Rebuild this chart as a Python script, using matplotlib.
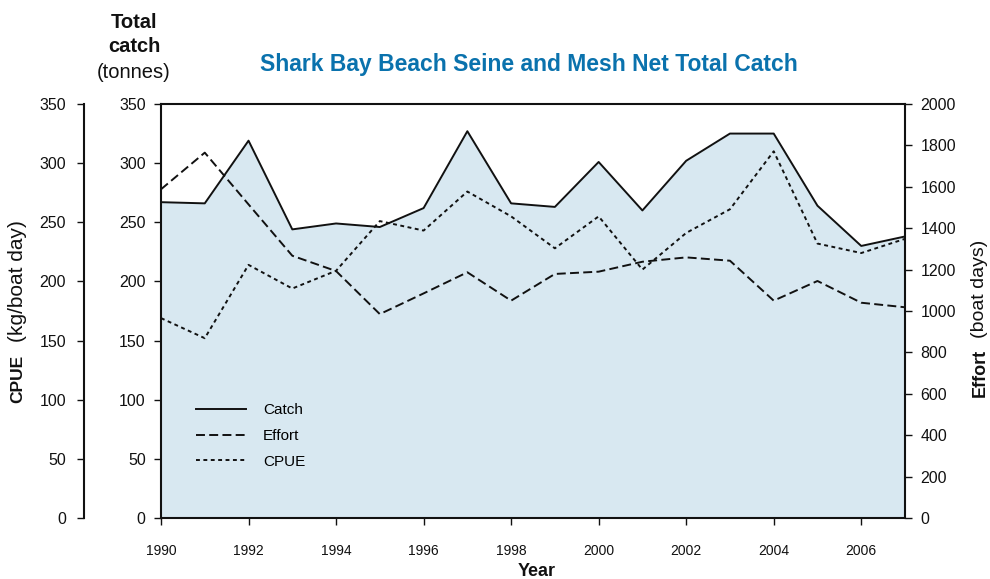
import matplotlib
matplotlib.use("Agg")
import matplotlib.pyplot as plt
import numpy as np

plt.rcParams['font.family'] = ['Liberation Sans', 'DejaVu Sans']

years = [1990, 1991, 1992, 1993, 1994, 1995, 1996, 1997, 1998, 1999,
         2000, 2001, 2002, 2003, 2004, 2005, 2006, 2007]
catch = [267, 266, 319, 244, 249, 246, 262, 327, 266, 263,
         301, 260, 302, 325, 325, 264, 230, 238]
effort = [1588, 1765, 1515, 1267, 1193, 985, 1085, 1187, 1050, 1179,
          1190, 1238, 1259, 1243, 1050, 1145, 1040, 1018]
cpue = [169, 152, 214, 194, 209, 251, 243, 276, 255, 228,
        255, 210, 241, 261, 310, 232, 224, 236]
xticks = [1990, 1992, 1994, 1996, 1998, 2000, 2002, 2004, 2006]
catch_ticks = [0, 50, 100, 150, 200, 250, 300, 350]
cpue_ticks = [0, 50, 100, 150, 200, 250, 300, 350]
effort_ticks = [0, 200, 400, 600, 800, 1000, 1200, 1400, 1600, 1800, 2000]

W, H = 990, 579
fig = plt.figure(figsize=(W / 100, H / 100), dpi=100)
L, R, T, B = 161, 905, 104, 518
ax = fig.add_axes([L / W, 1 - B / H, (R - L) / W, (B - T) / H])

fill_col = '#d8e8f1'
ink = '#111111'
lw_sp = 1.5

ax.fill_between(years, catch, 0, color=fill_col, lw=0, zorder=1)
ax.plot(years, catch, color=ink, lw=1.4, zorder=3, label='Catch')
ax.set_xlim(1990, 2007)
ax.set_ylim(0, 350)
ax.set_xticks(xticks)
ax.set_yticks(catch_ticks)
ax.tick_params(axis='x', direction='out', length=5, width=1.0, labelsize=10, pad=14, colors=ink)
ax.tick_params(axis='y', direction='out', length=5, width=1.0, labelsize=11.5, pad=6, colors=ink)
for s in ['top', 'bottom', 'left']:
    ax.spines[s].set_linewidth(lw_sp)
    ax.spines[s].set_color(ink)
ax.spines['right'].set_visible(False)

# effort axis (right)
axe = ax.twinx()
axe.plot(years, effort, color=ink, lw=1.4, dashes=(4.6, 2.2), zorder=3, label='Effort')
axe.set_ylim(0, 2000)
axe.set_yticks(effort_ticks)
axe.tick_params(axis='y', direction='out', length=5, width=1.0, labelsize=11.5, pad=6, colors=ink)
for s in ['top', 'bottom', 'left']:
    axe.spines[s].set_visible(False)
axe.spines['right'].set_linewidth(lw_sp)
axe.spines['right'].set_color(ink)

# CPUE axis (outer left)
axc = ax.twinx()
axc.plot(years, cpue, color=ink, lw=1.4, dashes=(2.0, 1.8), zorder=3, label='CPUE')
axc.set_ylim(0, 350)
axc.set_yticks(cpue_ticks)
axc.yaxis.tick_left()
axc.spines['left'].set_position(('outward', (L - 84) * 0.72))
for s in ['top', 'bottom', 'right']:
    axc.spines[s].set_visible(False)
axc.spines['left'].set_visible(True)
axc.spines['left'].set_linewidth(lw_sp)
axc.spines['left'].set_color(ink)
axc.tick_params(axis='y', direction='out', length=5, width=1.0, labelsize=11.5, pad=8, colors=ink,
                left=True, labelleft=True, right=False, labelright=False)

handles = [ax.lines[0], axe.lines[0], axc.lines[0]]
leg = axc.legend(handles, [h.get_label() for h in handles], loc='upper left',
                 bbox_to_anchor=(196 / W, 1 - 403 / H), bbox_transform=fig.transFigure,
                 frameon=False, fontsize=11, handlelength=3.3, handletextpad=1.1,
                 labelspacing=0.78, borderpad=0, borderaxespad=0)

fig.text(529 / W, 1 - 64 / H, 'Shark Bay Beach Seine and Mesh Net Total Catch',
         ha='center', va='center', fontsize=16.5, fontweight='bold', color='#0a72ad')
fig.text(134 / W, 1 - 22 / H, 'Total', ha='center', va='center', fontsize=14.5, fontweight='bold', color=ink)
fig.text(134 / W, 1 - 46 / H, 'catch', ha='center', va='center', fontsize=14.5, fontweight='bold', color=ink)
fig.text(134 / W, 1 - 73 / H, '(tonnes)', ha='center', va='center', fontsize=14.5, color=ink)

fig.text(537 / W, 1 - 571 / H, 'Year', ha='center', va='center', fontsize=13, fontweight='bold', color=ink)

fig.text(18 / W, 1 - 379 / H, 'CPUE', ha='center', va='center', rotation=90,
         fontsize=12.5, fontweight='bold', color=ink)
fig.text(18 / W, 1 - 281 / H, '(kg/boat day)', ha='center', va='center', rotation=90,
         fontsize=15, color=ink)
fig.text(980 / W, 1 - 373 / H, 'Effort', ha='center', va='center', rotation=90,
         fontsize=13, fontweight='bold', color=ink)
fig.text(980 / W, 1 - 289 / H, '(boat days)', ha='center', va='center', rotation=90,
         fontsize=14, color=ink)

fig.savefig('out.png', dpi=100)
